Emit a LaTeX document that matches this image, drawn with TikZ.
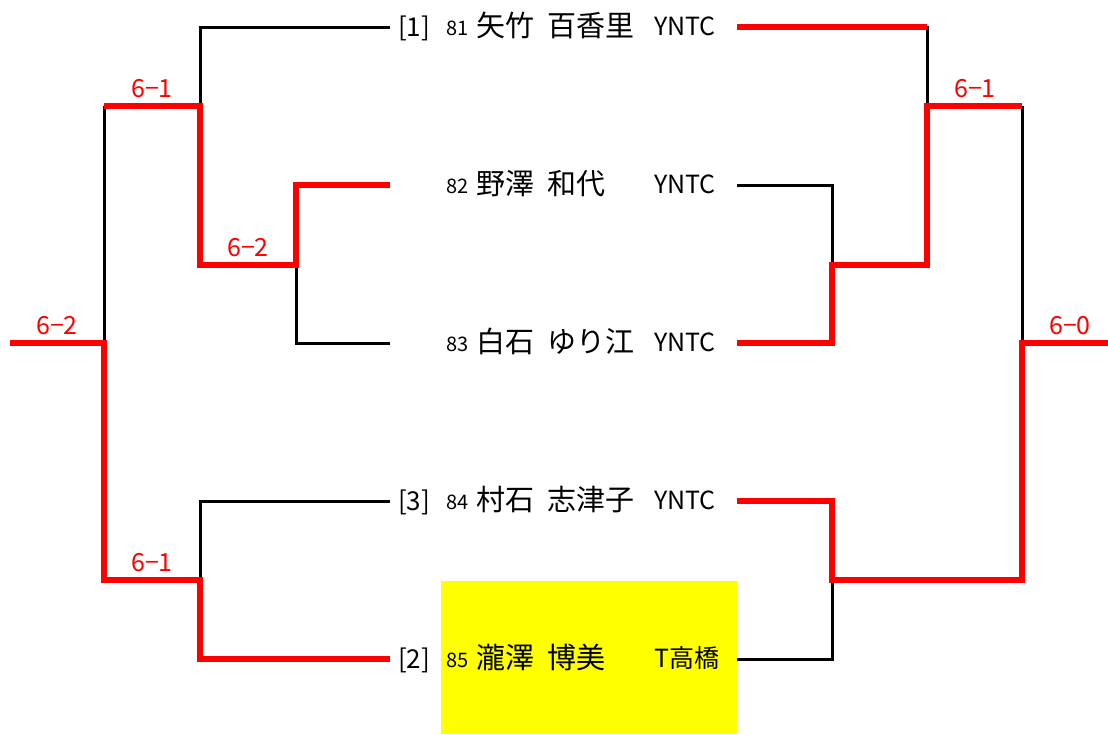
\documentclass[tikz,border=0pt]{standalone}
\usepackage{fontspec}
\setmainfont{Noto Sans CJK JP}
\definecolor{hiyellow}{RGB}{255,255,0}
\definecolor{winred}{RGB}{255,0,0}
\newcommand{\namegap}{\hspace{13pt}}
\begin{document}
\begin{tikzpicture}[x=1pt,y=-1pt,
  win/.style={draw=winred,line width=6.5pt,line join=miter,line cap=butt},
  lose/.style={draw=black,line width=3pt,line join=miter},
  score/.style={text=winred,font=\fontsize{25}{25}\selectfont,anchor=base,inner sep=0pt},
  seed/.style={font=\fontsize{26}{26}\selectfont,anchor=base west,inner sep=0pt},
  num/.style={font=\fontsize{20}{20}\selectfont,anchor=base west,inner sep=0pt},
  pname/.style={font=\fontsize{29}{29}\selectfont,anchor=base west,inner sep=0pt},
  club/.style={font=\fontsize{25}{25}\selectfont,anchor=base west,inner sep=0pt}]
\useasboundingbox (0,0) rectangle (1108,734);
\fill[hiyellow] (441,581) rectangle (737,734);
% players
\node[seed] (s1) at (398,36) {[1]};
\node[num] (n1) at (446,35) {81};
\node[pname] (p1) at (476,36) {矢竹\namegap 百香里};
\node[club] (c1) at (654,35) {YNTC};
\node[num] (n2) at (446,193) {82};
\node[pname] (p2) at (476,194) {野澤\namegap 和代};
\node[club] (c2) at (654,193) {YNTC};
\node[num] (n3) at (446,351) {83};
\node[pname] (p3) at (476,352) {白石\namegap ゆり江};
\node[club] (c3) at (654,351) {YNTC};
\node[seed] (s4) at (398,510) {[3]};
\node[num] (n4) at (446,509) {84};
\node[pname] (p4) at (476,510) {村石\namegap 志津子};
\node[club] (c4) at (654,509) {YNTC};
\node[seed] (s5) at (398,668) {[2]};
\node[num] (n5) at (446,667) {85};
\node[pname] (p5) at (476,668) {瀧澤\namegap 博美};
\node[club] (c5) at (654,667) {T高橋};
% coordinates
\coordinate (L1) at (390,27);
\coordinate (L2) at (390,185);
\coordinate (L3) at (390,343);
\coordinate (L4) at (390,501);
\coordinate (L5) at (390,659);
\coordinate (R1) at (737,27);
\coordinate (R2) at (737,185);
\coordinate (R3) at (737,343);
\coordinate (R4) at (737,501);
\coordinate (R5) at (737,659);
\coordinate (LW) at (10,343);
\coordinate (RW) at (1108,343);
% black (losing) lines
\draw[lose] (L1) -| (200,106);
\draw[lose] (L3) -| (296,265);
\draw[lose] (104,106) -- (104,343);
\draw[lose] (L4) -| (200,580);
\draw[lose] (R1) -| (927,106);
\draw[lose] (R2) -| (832,265);
\draw[lose] (1022,106) -- (1022,343);
\draw[lose] (R5) -| (832,580);
% red (winning) lines
\draw[win] (L2) -| (296,265) -| (200,106) -- (104,106);
\draw[win] (L5) -| (200,580) -| (104,343) -- (LW);
\draw[win] (R1) -- (927,27);
\draw[win] (R3) -| (832,265) -| (927,106) -- (1022,106);
\draw[win] (R4) -| (832,580) -| (1022,343) -- (RW);
% scores
\node[score] (sa) at (152,97) {6−1};
\node[score] (sb) at (248,256) {6−2};
\node[score] (sc) at (57,334) {6−2};
\node[score] (sd) at (152,571) {6−1};
\node[score] (se) at (975,97) {6−1};
\node[score] (sf) at (1070,334) {6−0};
\end{tikzpicture}
\end{document}
